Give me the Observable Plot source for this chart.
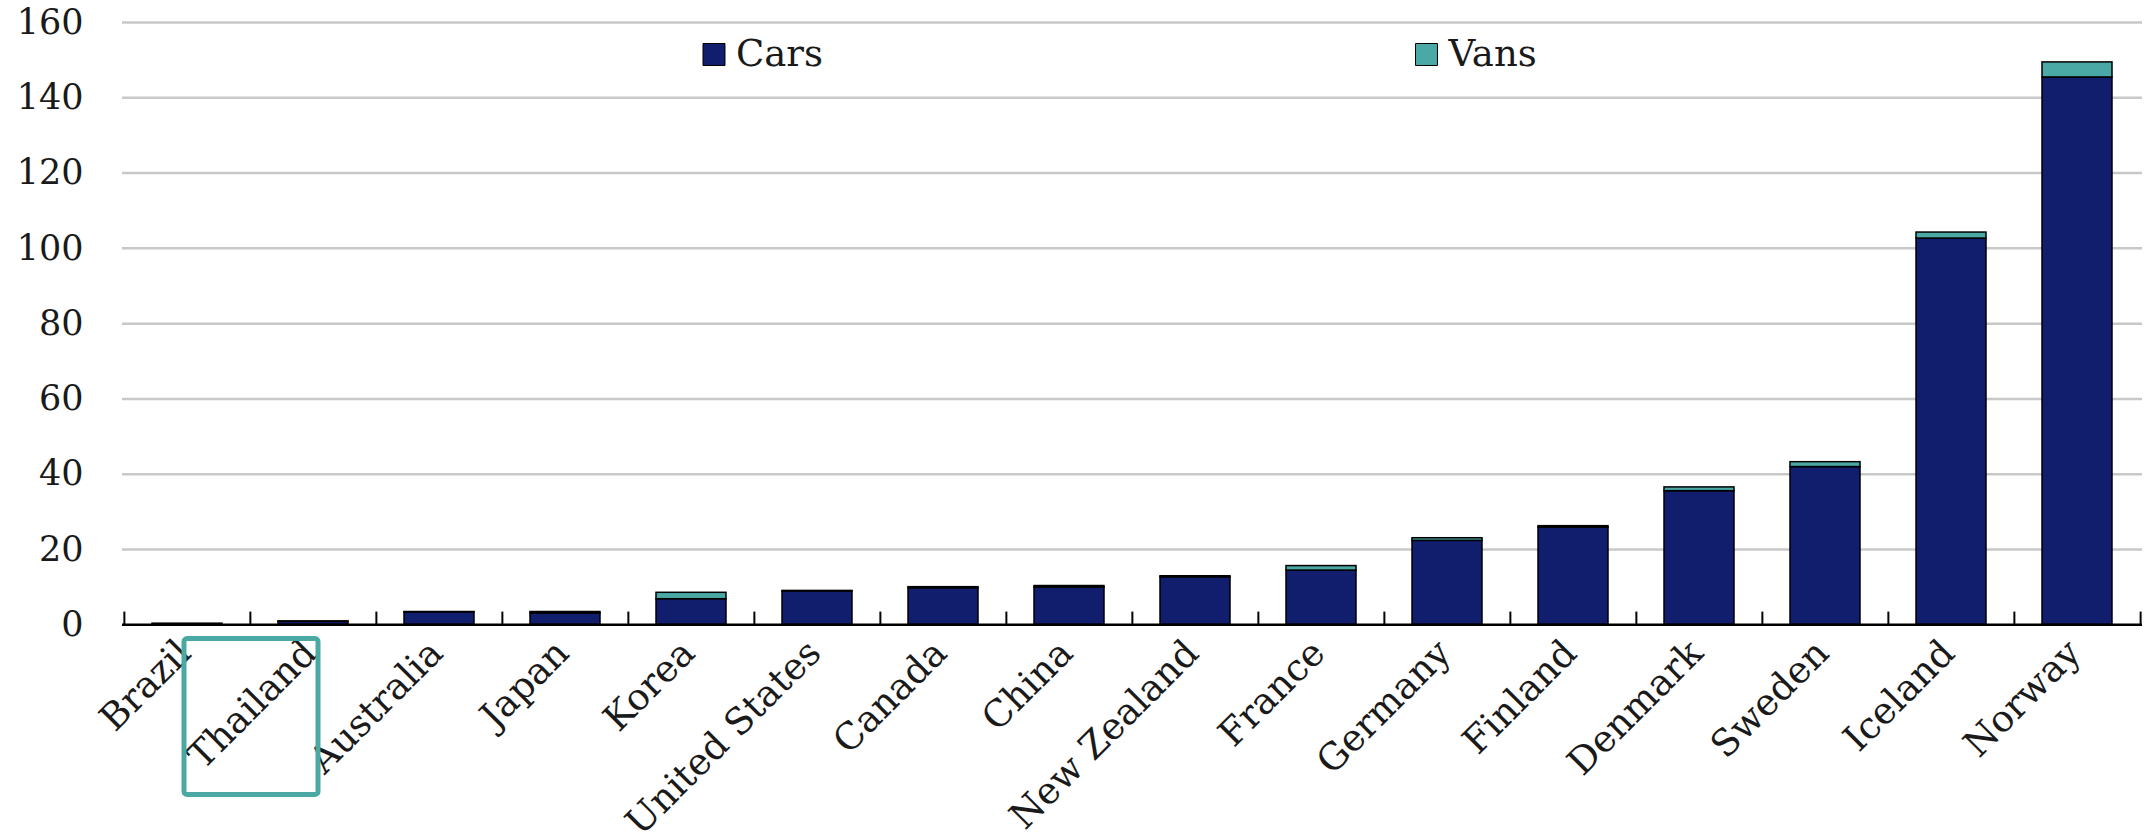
<!DOCTYPE html>
<html><head><meta charset="utf-8">
<script src="https://cdn.jsdelivr.net/npm/d3@7"></script>
<script src="https://cdn.jsdelivr.net/npm/@observablehq/plot@0.6"></script>
<style>html,body{margin:0;padding:0;background:#fff;} svg{display:block}</style>
</head><body><div id="chart"></div>
<script>
const countries = ["Brazil","Thailand","Australia","Japan","Korea","United States","Canada","China","New Zealand","France","Germany","Finland","Denmark","Sweden","Iceland","Norway"];
const cars = [0.3, 0.8, 3.3, 3.0, 6.8, 8.9, 9.7, 9.9, 12.6, 14.4, 22.3, 25.8, 35.5, 41.9, 102.6, 145.4];
const vans = [0.0, 0.1, 0.1, 0.4, 1.7, 0.1, 0.3, 0.4, 0.3, 1.2, 0.7, 0.4, 1.0, 1.3, 1.6, 4.0];
const series = ["Cars", "Vans"];
const colors = ["#111d6d", "#4aa8a5"];
const yTicks = [0, 20, 40, 60, 80, 100, 120, 140, 160];
const highlighted = "Thailand";

const rows = [];
series.forEach((s, j) => countries.forEach((c, i) =>
  rows.push({country: c, type: s, value: (j === 0 ? cars : vans)[i]})));

const W = 2145, H = 840, ml = 122, mr = 3, mt = 22, mb = 215.7;
const step = (W - ml - mr) / countries.length;
const plotH = H - mt - mb;
const legendDx = [591.5, 1304];

const legendMarks = series.flatMap((s, i) => [
  Plot.dot([s], {frameAnchor: "top-left", dx: legendDx[i], dy: 32, symbol: "square", r: 12.4,
    fill: d => d, stroke: "#000", strokeWidth: 1}),
  Plot.text([s], {frameAnchor: "top-left", dx: legendDx[i] + 22, dy: 32, text: d => d,
    textAnchor: "start", lineAnchor: "middle", fontSize: 37, fill: "#1a1a1a"})
]);

const chart = Plot.plot({
  width: W, height: H,
  marginLeft: ml, marginRight: mr, marginTop: mt, marginBottom: mb,
  style: {fontFamily: "'DejaVu Serif', serif", fontSize: "34px", color: "#1a1a1a", background: "white", overflow: "visible"},
  x: {domain: countries, padding: 0, label: null},
  y: {domain: [0, 160], ticks: yTicks, label: null},
  color: {domain: series, range: colors},
  marks: [
    Plot.gridY(yTicks.filter(t => t > 0), {stroke: "#c8c8c8", strokeOpacity: 1, strokeWidth: 2.5}),
    Plot.axisY(yTicks, {tickSize: 0, tickPadding: 39, fontSize: 35, label: null}),
    Plot.barY(rows, {x: "country", y: "value", fill: "type", stroke: "#000", strokeWidth: 1.5,
      insetLeft: 28, insetRight: 28}),
    Plot.ruleY([0], {stroke: "#000", strokeWidth: 2.5}),
    Plot.ruleX(countries, {x: d => d, dx: -step / 2, insetTop: plotH - 12.7, stroke: "#000", strokeWidth: 2}),
    Plot.ruleX(countries.slice(-1), {x: d => d, dx: step / 2, insetTop: plotH - 12.7, stroke: "#000", strokeWidth: 2}),
    Plot.axisX({tickSize: 0, tickPadding: 22, tickRotate: -45, dx: -3, fontSize: 37, label: null}),
    Plot.rect([highlighted], {x: d => d, dx: -62, insetLeft: -4, insetRight: -4, y1: -3.8, y2: -45.2,
      fill: "none", stroke: "#4aa8a5", strokeWidth: 5, rx: 3}),
    ...legendMarks
  ]
});
document.getElementById("chart").appendChild(chart);
</script>
</body></html>
